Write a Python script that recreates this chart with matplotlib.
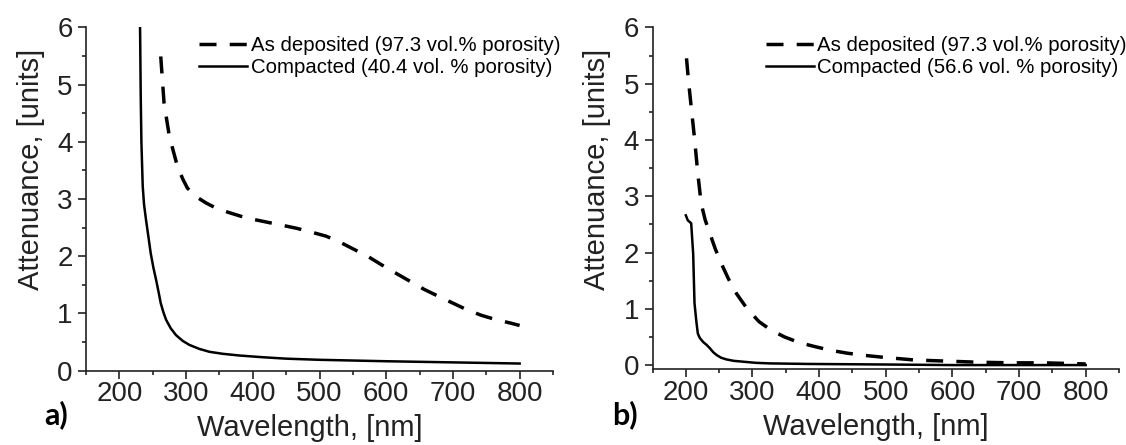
import numpy as np
import matplotlib.pyplot as plt
from matplotlib.ticker import MultipleLocator

plt.rcParams['font.family'] = ['Liberation Sans', 'DejaVu Sans']

# panel a) values
a_dep_wl  = [262, 267, 275, 287, 295, 302, 315, 330, 345, 365, 390, 415, 440, 465, 485,
             510, 530, 550, 572, 593, 615, 636, 657, 680, 700, 720, 742, 765, 787, 800]
a_dep_att = [5.49, 4.67, 4.09, 3.57, 3.35, 3.19, 3.04, 2.93, 2.84, 2.76, 2.67, 2.61, 2.55, 2.49, 2.43,
             2.35, 2.25, 2.13, 2.00, 1.85, 1.70, 1.56, 1.42, 1.29, 1.18, 1.07, 0.97, 0.89, 0.83, 0.79]
a_cmp_wl  = [231, 232, 233, 235, 237, 240, 244, 247, 251, 255, 259, 262, 266, 270, 277, 285,
             295, 305, 320, 335, 355, 380, 415, 450, 500, 600, 700, 800]
a_cmp_att = [6.0, 4.8, 4.0, 3.22, 2.9, 2.63, 2.3, 2.05, 1.8, 1.59, 1.36, 1.18, 1.02, 0.89, 0.74, 0.62,
             0.52, 0.45, 0.38, 0.33, 0.295, 0.265, 0.235, 0.21, 0.19, 0.165, 0.145, 0.125]

# panel b)
b_dep_wl  = [201, 204, 208, 213, 218, 223, 229, 236, 244, 253, 264, 276, 292, 310, 328, 348,
             370, 393, 418, 443, 470, 495, 543, 592, 640, 690, 737, 800]
b_dep_att = [5.45, 5.05, 4.59, 4.03, 3.40, 2.87, 2.58, 2.34, 2.07, 1.81, 1.53, 1.27, 1.00, 0.77, 0.62, 0.50,
             0.40, 0.33, 0.26, 0.21, 0.17, 0.14, 0.09, 0.07, 0.05, 0.04, 0.04, 0.02]
b_cmp_wl  = [200, 203, 208, 211, 213, 216, 218, 221, 226, 231, 236, 241, 246, 253, 261, 272,
             286, 305, 325, 383, 500, 600, 800]
b_cmp_att = [2.66, 2.57, 2.52, 1.98, 1.10, 0.75, 0.56, 0.48, 0.41, 0.36, 0.30, 0.23, 0.18, 0.13, 0.10, 0.075,
             0.06, 0.04, 0.03, 0.02, 0.01, 0.0, 0.0]

dep_label = 'As deposited (97.3 vol.% porosity)'
cmp_labels = ['Compacted (40.4 vol. % porosity)', 'Compacted (56.6 vol. % porosity)']

fig = plt.figure(figsize=(11.26, 4.45), dpi=100)
ax1 = fig.add_axes([0.0764, 0.167, 0.4147, 0.7717])
ax2 = fig.add_axes([0.5795, 0.170, 0.4143, 0.7685])

panels = [
    (ax1, a_dep_wl, a_dep_att, a_cmp_wl, a_cmp_att, cmp_labels[0], (0.0, 6.0), 'a)', 0.0497),
    (ax2, b_dep_wl, b_dep_att, b_cmp_wl, b_cmp_att, cmp_labels[1], (-0.076, 6.0), 'b)', 0.555),
]

for ax, dw, da, cw, ca, clab, ylim, tag, tx in panels:
    ax.plot(dw, da, color='black', lw=2.5, ls=(0, (4.9, 3.8)), label=dep_label)
    ax.plot(cw, ca, color='black', lw=1.8, label=clab)
    ax.set_xlim(150, 850)
    ax.set_ylim(*ylim)
    ax.set_xticks(range(200, 801, 100))
    ax.xaxis.set_minor_locator(MultipleLocator(50))
    ax.yaxis.set_major_locator(MultipleLocator(1))
    ax.yaxis.set_minor_locator(MultipleLocator(0.5))
    ax.tick_params(which='major', direction='out', length=5.5, width=1.2,
                   labelsize=20, colors='#222222')
    ax.tick_params(axis='x', which='major', pad=2)
    ax.tick_params(axis='y', which='major', pad=4)
    ax.tick_params(which='minor', direction='out', length=3, width=1.2, color='#222222')
    for s in ['left', 'bottom']:
        ax.spines[s].set_linewidth(1.2)
        ax.spines[s].set_color('#222222')
    ax.spines['top'].set_visible(False)
    ax.spines['right'].set_visible(False)
    ax.set_xlabel('Wavelength, [nm]', fontsize=21, labelpad=5, color='#222222', x=0.479)
    ax.set_ylabel('Attenuance, [units]', fontsize=21, labelpad=9, color='#222222', y=0.585)
    ax.legend(loc='upper left', bbox_to_anchor=(0.243, 0.975), frameon=False,
              fontsize=14.7, handlelength=2.35, handletextpad=0.15, borderpad=0,
              labelspacing=0.15, borderaxespad=0)
    fig.text(tx, 0.067, tag, fontsize=22, fontweight='bold', family='Lato',
             ha='center', va='center')

fig.savefig('out.png', dpi=100)
